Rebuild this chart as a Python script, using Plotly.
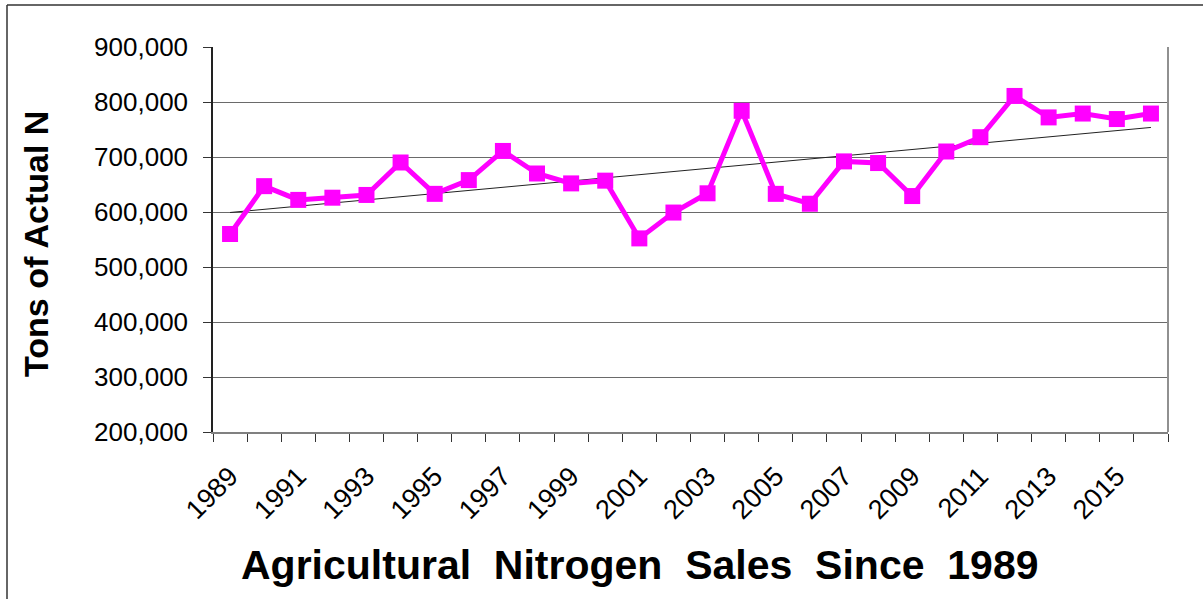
import numpy as np
import plotly.graph_objects as go

years = list(range(1989, 2017))
tons = [560000, 647000, 622000, 626000, 631000, 690000, 633000, 658000, 711000, 670000,
        652000, 657000, 552000, 599000, 634000, 784000, 633000, 615000, 692000, 689000,
        629000, 710000, 736000, 811000, 772000, 779000, 769000, 779000]
label_years = [y for y in years if y % 2 == 1]
y_ticks = list(range(200000, 900001, 100000))

slope, intercept = np.polyfit(years, tons, 1)
trend = [slope * y + intercept for y in years]

fig = go.Figure()
fig.add_trace(go.Scatter(x=years, y=trend, mode="lines",
                         line=dict(color="#222222", width=1), hoverinfo="skip"))
fig.add_trace(go.Scatter(x=years, y=tons, mode="lines+markers",
                         line=dict(color="#FF00FF", width=5),
                         marker=dict(symbol="square", size=16, color="#FF00FF")))

font = "Liberation Sans, Arial, sans-serif"
L, T, PW, PH = 213, 47, 955, 385
fig.update_layout(
    width=1203, height=599,
    margin=dict(l=L, r=1203 - L - PW, t=T, b=599 - T - PH),
    paper_bgcolor="white", plot_bgcolor="white",
    showlegend=False,
    font=dict(family=font, color="black"),
    xaxis=dict(
        range=[1988.5, 2016.5],
        tickmode="array", tickvals=label_years, ticktext=[str(y) for y in label_years],
        tickangle=-45, ticks="outside", ticklen=16, tickcolor="rgba(0,0,0,0)",
        tickfont=dict(size=27, family=font),
        showgrid=False, zeroline=False,
        showline=True, linecolor="#808080", linewidth=1.5, mirror=False,
        minor=dict(tickmode="array", tickvals=[y + 0.5 for y in range(1988, 2017)],
                   ticks="outside", ticklen=8, tickcolor="#333333", tickwidth=1, showgrid=False),
    ),
    yaxis=dict(
        range=[200000, 900000],
        tickmode="array", tickvals=y_ticks, tickformat=",",
        ticks="outside", ticklen=8, tickcolor="#333333",
        tickfont=dict(size=26, family=font), ticklabelstandoff=10,
        showgrid=True, gridcolor="#6a6a6a", gridwidth=1,
        zeroline=False, showline=True, linecolor="#222222", linewidth=1.5,
    ),
    shapes=[
        dict(type="line", xref="paper", yref="paper", x0=1, x1=1, y0=0, y1=1,
             line=dict(color="#909090", width=2)),
        dict(type="line", xref="paper", yref="paper",
             x0=(7 - L) / PW, x1=(7 - L) / PW, y0=(T + PH - 5) / PH, y1=(T + PH - 610) / PH,
             line=dict(color="#333333", width=1.5)),
        dict(type="line", xref="paper", yref="paper",
             x0=(7 - L) / PW, x1=(1210 - L) / PW, y0=(T + PH - 5) / PH, y1=(T + PH - 5) / PH,
             line=dict(color="#333333", width=1.5)),
    ],
    annotations=[
        dict(text="<b>Agricultural  Nitrogen  Sales  Since  1989</b>", xref="paper", yref="paper",
             x=(640 - L) / PW, y=(T + PH - 565) / PH, xanchor="center", yanchor="middle",
             showarrow=False, font=dict(size=41, family=font, color="black")),
        dict(text="<b>Tons of Actual N</b>", xref="paper", yref="paper", textangle=-90,
             x=(36 - L) / PW, y=(T + PH - 244) / PH, xanchor="center", yanchor="middle",
             showarrow=False, font=dict(size=34, family=font, color="black")),
    ],
)

fig.write_html("out.html", config={"displayModeBar": False},
               post_script="document.body.style.margin='0px';")
